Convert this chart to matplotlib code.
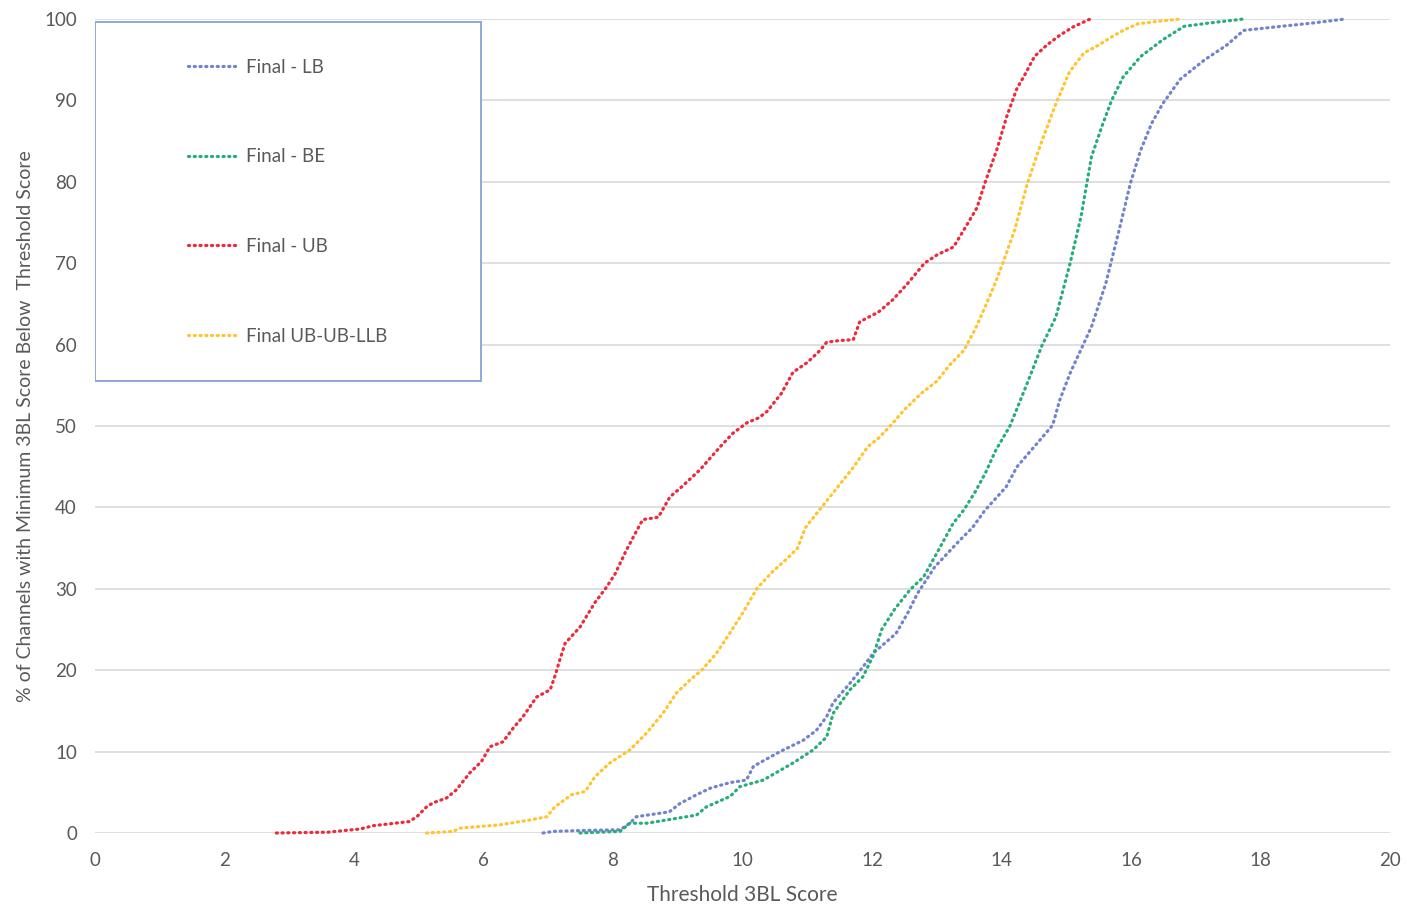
import matplotlib
matplotlib.use("Agg")
import matplotlib.pyplot as plt
from matplotlib.lines import Line2D
from matplotlib.patches import Rectangle

plt.rcParams['font.family'] = ['Lato', 'DejaVu Sans']

# ---- data ----
series_names = ["Final - LB", "Final - BE", "Final - UB", "Final UB-UB-LLB"]
series_colors = ["#7283CC", "#27AE78", "#EC2A3C", "#FFC52E"]

lb_x = [6.92, 7.08, 7.49, 8.11, 8.26, 8.36, 8.87, 9.03, 9.29, 9.5, 9.81, 10.06, 10.17,
        10.58, 10.94, 11.14, 11.3, 11.4, 11.66, 11.86, 12.02, 12.37, 12.55, 12.7, 12.97,
        13.36, 13.55, 13.75, 14.07, 14.24, 14.51, 14.79, 14.9, 15.06, 15.39, 15.61, 15.83,
        15.99, 16.15, 16.32, 16.49, 16.76, 17.14, 17.48, 17.74, 18.2, 18.8, 19.31]
lb_y = [0, 0.2, 0.3, 0.4, 1.2, 2.0, 2.6, 3.6, 4.7, 5.5, 6.2, 6.5, 8.2,
        10.0, 11.4, 12.6, 14.3, 16.0, 18.4, 20.4, 22.1, 24.5, 27.0, 29.4, 32.7,
        36.0, 37.5, 39.7, 42.5, 45.0, 47.5, 50.1, 53.2, 56.5, 62.2, 67.5, 74.5,
        79.8, 83.9, 87.2, 89.6, 92.6, 95.0, 96.8, 98.6, 99.0, 99.5, 100]

be_x = [7.49, 8.11, 8.26, 8.52, 9.29, 9.44, 9.81, 9.96, 10.32, 10.78, 11.09, 11.3, 11.4,
        11.66, 11.86, 12.02, 12.15, 12.35, 12.59, 12.8, 13.03, 13.25, 13.42, 13.6, 13.75,
        13.91, 14.13, 14.4, 14.62, 14.84, 15.06, 15.23, 15.39, 15.55, 15.7, 15.88, 16.15,
        16.5, 16.82, 17.2, 17.74]
be_y = [0, 0.2, 1.2, 1.2, 2.2, 3.2, 4.5, 5.7, 6.5, 8.6, 10.2, 11.8, 14.7,
        17.6, 19.2, 21.8, 25.0, 27.5, 29.9, 31.5, 34.8, 38.0, 39.7, 42.0, 44.2,
        47.0, 50.0, 55.3, 59.8, 63.4, 70.0, 75.8, 83.1, 86.8, 90.0, 92.9, 95.4,
        97.5, 99.1, 99.5, 100]

ub_x = [2.8, 3.6, 4.1, 4.3, 4.85, 4.97, 5.12, 5.22, 5.43, 5.58, 5.79, 5.97, 6.1, 6.3,
        6.46, 6.61, 6.82, 7.03, 7.1, 7.18, 7.26, 7.49, 7.72, 7.9, 8.03, 8.21, 8.37, 8.46,
        8.7, 8.88, 9.03, 9.34, 9.65, 9.85, 10.07, 10.25, 10.38, 10.6, 10.78, 11.0, 11.2,
        11.3, 11.5, 11.71, 11.81, 12.1, 12.32, 12.55, 12.81, 13.0, 13.26, 13.45, 13.62,
        13.75, 13.93, 14.08, 14.24, 14.35, 14.51, 14.7, 14.9, 15.1, 15.37]
ub_y = [0, 0.1, 0.5, 0.9, 1.4, 2.0, 3.2, 3.7, 4.3, 5.3, 7.4, 8.8, 10.6, 11.2,
        12.9, 14.3, 16.7, 17.6, 19.2, 21.3, 23.3, 25.3, 28.3, 30.2, 31.8, 34.8, 37.2, 38.5,
        38.8, 41.3, 42.3, 44.6, 47.4, 49.1, 50.4, 51.0, 51.8, 54.0, 56.6, 57.8, 59.3,
        60.3, 60.5, 60.6, 62.8, 64.0, 65.5, 67.5, 70.0, 71.0, 72.0, 74.5, 76.8,
        80.0, 84.0, 88.0, 91.5, 93.0, 95.4, 96.8, 98.0, 99.0, 100]

llb_x = [5.12, 5.53, 5.64, 6.25, 6.72, 6.98, 7.1, 7.36, 7.57, 7.72, 7.95, 8.26, 8.52,
         8.77, 8.98, 9.19, 9.37, 9.6, 9.8, 10.0, 10.22, 10.45, 10.7, 10.85, 10.97, 11.22,
         11.45, 11.7, 11.94, 12.1, 12.28, 12.5, 12.76, 13.0, 13.2, 13.42, 13.6, 13.75,
         13.9, 14.02, 14.2, 14.4, 14.6, 14.84, 15.05, 15.27, 15.5, 15.7, 15.88, 16.1,
         16.4, 16.76]
llb_y = [0, 0.2, 0.6, 1.0, 1.6, 2.0, 3.2, 4.7, 5.1, 6.9, 8.6, 10.2, 12.3,
         14.7, 17.2, 18.8, 20.0, 22.1, 24.5, 27.0, 30.0, 32.0, 33.8, 35.0, 37.5, 40.0,
         42.3, 44.8, 47.5, 48.5, 50.0, 52.0, 54.0, 55.5, 57.5, 59.3, 62.0, 64.7,
         67.5, 70.0, 74.0, 79.8, 84.5, 89.6, 93.5, 95.8, 96.8, 97.8, 98.6, 99.4,
         99.7, 100]

x_ticks = list(range(0, 21, 2))
y_ticks = list(range(0, 101, 10))
x_label = "Threshold 3BL Score"
y_label = "% of Channels with Minimum 3BL Score Below  Threshold Score"

TEXT = "#595959"
GRID = "#D9D9D9"

fig = plt.figure(figsize=(14.07, 9.07), dpi=100)
ax = fig.add_axes([95 / 1407, 1 - 833 / 907, (1390 - 95) / 1407, (833 - 19) / 907])

dot_style = dict(linestyle=(0, (0.35, 1.45)), linewidth=2.3, dash_capstyle='round')

all_x = [lb_x, be_x, ub_x, llb_x]
all_y = [lb_y, be_y, ub_y, llb_y]
for xs, ys, c in zip(all_x, all_y, series_colors):
    ax.plot(xs, ys, color=c, clip_on=False, zorder=3, **dot_style)

ax.set_xlim(0, 20)
ax.set_ylim(0, 100)
ax.set_xticks(x_ticks)
ax.set_yticks(y_ticks)
ax.tick_params(length=0, labelsize=13.5, labelcolor=TEXT)
ax.tick_params(axis='y', pad=13)
ax.tick_params(axis='x', pad=13.5)
ax.grid(axis='y', color=GRID, linewidth=1.2)
ax.set_axisbelow(True)
for s in ax.spines.values():
    s.set_visible(False)

ax.set_xlabel(x_label, fontsize=15, color=TEXT)
ax.set_ylabel(y_label, fontsize=14, color=TEXT)
ax.xaxis.set_label_coords(0.5, -0.064)
ax.yaxis.set_label_coords(-0.047, 0.5)

# legend box
box = Rectangle((0, 0.555), 0.298, 0.441, transform=ax.transAxes, fill=True,
                facecolor="white", edgecolor="#8EA7DA", linewidth=1.4, zorder=4)
ax.add_patch(box)
handles = [Line2D([0], [0], color=c, **dot_style) for c in series_colors]
leg = ax.legend(handles, series_names, loc='center', bbox_to_anchor=(0, 0.555, 0.298, 0.441),
                frameon=False, fontsize=13.5, labelcolor=TEXT, handlelength=2.67,
                handletextpad=0.43, labelspacing=3.87, borderpad=0)
leg.set_zorder(5)

fig.savefig("out.png", dpi=100, facecolor="white")
